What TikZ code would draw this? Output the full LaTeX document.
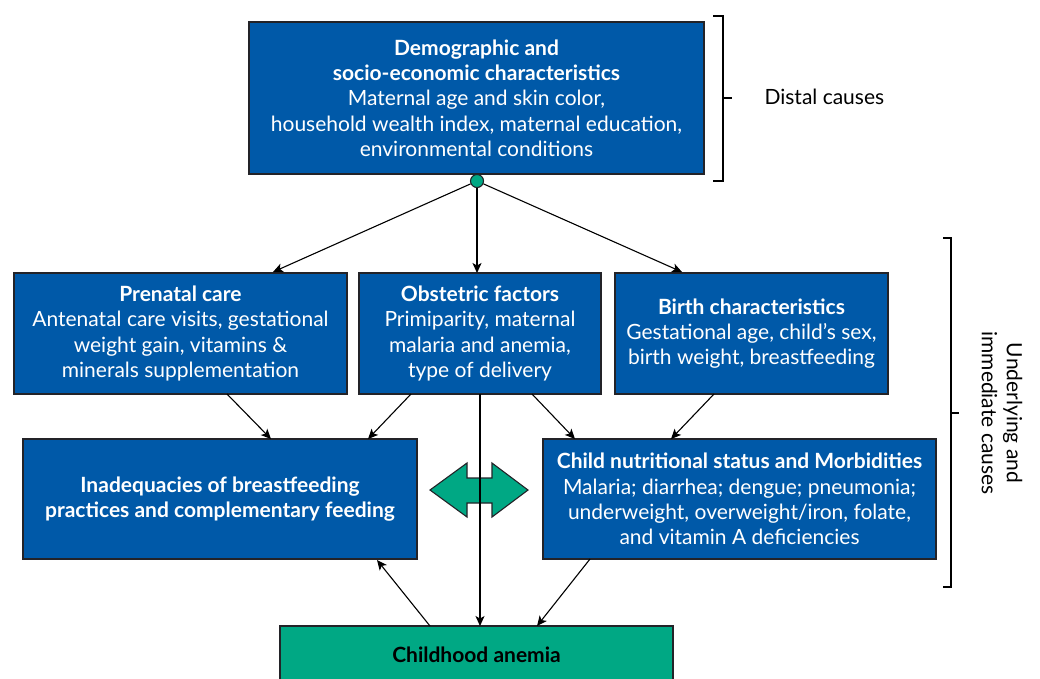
\documentclass[tikz,border=0pt]{standalone}
\usepackage{fontspec}
\setmainfont{Lato}
\usetikzlibrary{arrows.meta,calc}
\definecolor{boxblue}{RGB}{0,89,168}
\definecolor{edge}{RGB}{35,35,40}
\definecolor{mint}{RGB}{0,168,132}
\begin{document}
\begin{tikzpicture}[x=1pt,y=-1pt,
  box/.style={draw=edge, line width=1.3pt, fill=boxblue, text=white, align=center,
    inner sep=0pt, outer sep=0pt, font=\fontsize{21}{25.3}\selectfont},
  conn/.style={draw=black, line width=1.1pt, -{Stealth[length=10pt,width=9pt,inset=2.5pt]}},
  plain/.style={draw=edge, line width=1.2pt},
  bracket/.style={draw=black, line width=1.2pt},
  side/.style={font=\fontsize{21}{25}\selectfont, text=black, align=center}]
\useasboundingbox (0,0) rectangle (1040,678);
\clip (0,0) rectangle (1040,678);
\fill[white] (0,0) rectangle (1040,678);

% distal level
\node[box, minimum width=455pt, minimum height=152pt] (top) at (476.5,98)
  {\textbf{Demographic and}\\ \textbf{socio-economic characteristics}\\
   Maternal age and skin color,\\ household wealth index, maternal education,\\
   environmental conditions};
\node[circle, draw=edge, line width=1.1pt, fill=mint, minimum size=13pt, inner sep=0pt] (dot) at (477,181) {};

% underlying level
\node[box, minimum width=333pt, minimum height=121pt] (pre) at (180.5,333.5)
  {\textbf{Prenatal care}\\ Antenatal care visits, gestational\\ weight gain, vitamins \&\\ minerals supplementation};
\node[box, minimum width=242pt, minimum height=121pt] (obs) at (480,333.5)
  {\textbf{Obstetric factors}\\ Primiparity, maternal\\ malaria and anemia,\\ type of delivery};
\node[box, minimum width=273pt, minimum height=121pt] (bir) at (751.5,333.5)
  {\textbf{Birth characteristics}\\ Gestational age, child’s sex,\\ birth weight, breastfeeding};

% immediate level
\node[box, minimum width=394pt, minimum height=120pt] (inad) at (220,499)
  {\textbf{Inadequacies of breastfeeding}\\ \textbf{practices and complementary feeding}};
\node[box, minimum width=393pt, minimum height=120pt] (chi) at (739.5,499)
  {\textbf{Child nutritional status and Morbidities}\\ Malaria; diarrhea; dengue; pneumonia;\\
   underweight, overweight/iron, folate,\\ and vitamin A deficiencies};

% outcome
\node[draw=edge, line width=1.3pt, fill=mint, text=black, inner sep=0pt, outer sep=0pt,
  minimum width=393pt, minimum height=58pt, font=\fontsize{21}{25}\selectfont\bfseries] (ane) at (476.5,655)
  {Childhood anemia};

% two-headed arrow between the immediate causes
\draw[draw=edge, line width=1.1pt, fill=mint]
  (430,490) -- (467,463) -- (467,478) -- (492,478) -- (492,463) -- (528,490)
  -- (492,517) -- (492,503) -- (467,503) -- (467,517) -- cycle;

% attachment points on the box edges
\coordinate (preT) at (273,272);
\coordinate (birT) at (682,272);
\coordinate (preB) at (227,394);
\coordinate (obsBL) at (411,394);
\coordinate (obsBR) at (532,394);
\coordinate (birB) at (714,394);
\coordinate (inadT1) at (271,439);
\coordinate (inadT2) at (368,439);
\coordinate (chiT1) at (575,439);
\coordinate (chiT2) at (671,439);
\coordinate (inadB) at (377,560);
\coordinate (chiB) at (590,559);
\coordinate (aneT1) at (430,626);
\coordinate (aneT2) at (537,626);

% connectors
\draw[plain] (top.south -| dot) -- (dot.north);
\draw[conn] (dot) -- (preT);
\draw[conn] (dot.south) -- (dot.south |- obs.north);
\draw[conn] (dot) -- (birT);
\draw[conn] (preB) -- (inadT1);
\draw[conn] (obsBL) -- (inadT2);
\draw[conn] (obsBR) -- (chiT1);
\draw[conn] (birB) -- (chiT2);
\draw[conn] (obs.south) -- (obs.south |- ane.north);
\draw[conn] (aneT1) -- (inadB);
\draw[conn] (chiB) -- (aneT2);

% level brackets
\coordinate (b1t) at (723,16);
\coordinate (b1b) at (723,181);
\coordinate (b1m) at (723,98);
\draw[bracket] ($(b1t)+(-10,0)$) -- (b1t) -- (b1b) -- ($(b1b)+(-10,0)$);
\draw[bracket] (b1m) -- ++(9,0);
\node[side, anchor=west] (distal) at (761,97) {Distal causes};

\coordinate (b2t) at (951,238);
\coordinate (b2b) at (951,587);
\coordinate (b2m) at (951,413);
\draw[bracket] ($(b2t)+(-8,0)$) -- (b2t) -- (b2b) -- ($(b2b)+(-8,0)$);
\draw[bracket] (b2m) -- ++(8,0);
\node[side, rotate=-90] (under) at (1002,413) {Underlying and\\ immediate causes};
\end{tikzpicture}
\end{document}
